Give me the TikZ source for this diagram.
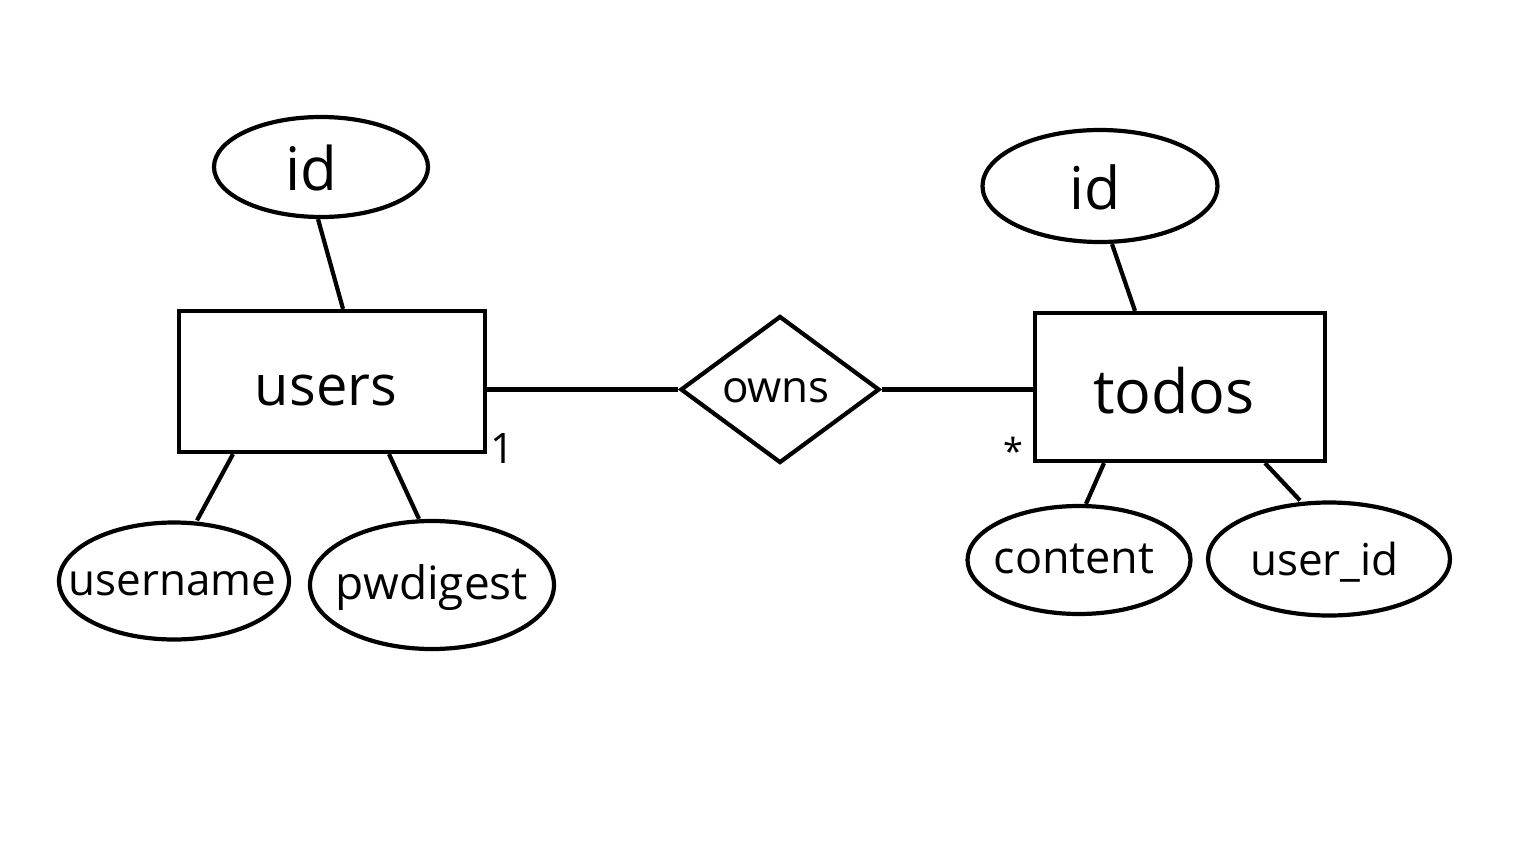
\documentclass[tikz,border=0pt]{standalone}
\usepackage{fontspec}
\setmainfont{Open Sans}
\usetikzlibrary{shapes.geometric}
\begin{document}
\begin{tikzpicture}[x=1pt,y=-1pt,
  lw/.style={line width=4.2pt},
  attr/.style={draw,ellipse,inner sep=0pt,lw},
  entity/.style={draw,rectangle,inner sep=0pt,lw},
  rel/.style={draw,diamond,inner sep=0pt,lw},
  txt/.style={inner sep=0pt},
  conn/.style={draw,lw}]
\useasboundingbox[fill=white] (0,0) rectangle (1536,864);
% users side
\node[entity,minimum width=306pt,minimum height=141pt,
  label={[txt,font=\fontsize{56}{60}\selectfont,xshift=-6pt,yshift=-9pt]center:users}] (users) at (332,381.5) {};
\node[attr,minimum width=214pt,minimum height=100pt,
  label={[txt,font=\fontsize{60}{64}\selectfont,xshift=-10pt,yshift=-1pt]center:id}] (idu) at (321,167) {};
\node[attr,minimum width=230pt,minimum height=117pt,
  label={[txt,font=\fontsize{44}{48}\selectfont,xshift=-1.5pt,yshift=-3pt]center:username}] (uname) at (174,581) {};
\node[attr,minimum width=244pt,minimum height=128pt,
  label={[txt,font=\fontsize{46}{50}\selectfont,xshift=0pt,yshift=-3pt]center:pwdigest}] (pwd) at (432,585) {};
% relationship
\node[rel,minimum width=199pt,minimum height=147pt,
  label={[txt,font=\fontsize{44}{48}\selectfont,xshift=-4pt,yshift=-1pt]center:owns}] (owns) at (780,389.5) {};
% todos side
\node[entity,minimum width=290pt,minimum height=148pt,
  label={[txt,font=\fontsize{61}{66}\selectfont,xshift=-6pt,yshift=-4pt]center:todos}] (todos) at (1180,387) {};
\node[attr,minimum width=235pt,minimum height=112pt,
  label={[txt,font=\fontsize{59}{64}\selectfont,xshift=-5pt,yshift=-1pt]center:id}] (idt) at (1100,186) {};
\node[attr,minimum width=223pt,minimum height=108pt,
  label={[txt,font=\fontsize{45}{50}\selectfont,xshift=-5pt,yshift=1pt]center:content}] (content) at (1079,560) {};
\node[attr,minimum width=242pt,minimum height=113pt,
  label={[txt,font=\fontsize{44}{48}\selectfont,xshift=-4.5pt,yshift=-3pt]center:user\_id}] (userid) at (1329,559) {};
% cardinalities
\node[txt,font=\fontsize{42}{46}\selectfont] (one) at (503,449) {1};
\node[txt,font=\fontsize{36}{40}\selectfont] (many) at (1013,451) {*};
% connectors
\draw[conn] ([xshift=-3pt]idu.south) -- ([xshift=11pt]users.north);
\draw[conn] ([xshift=-99pt]users.south) -- ([xshift=23pt]uname.north);
\draw[conn] ([xshift=57pt]users.south) -- ([xshift=-13pt]pwd.north);
\draw[conn] (owns.west -| users.east) -- (owns.west);
\draw[conn] (owns.east) -- (owns.east -| todos.west);
\draw[conn] ([xshift=12pt]idt.south) -- ([xshift=-45pt]todos.north);
\draw[conn] ([xshift=-76pt]todos.south) -- ([xshift=7pt]content.north);
\draw[conn] ([xshift=85pt]todos.south) -- ([xshift=-29pt]userid.north);
\end{tikzpicture}
\end{document}
